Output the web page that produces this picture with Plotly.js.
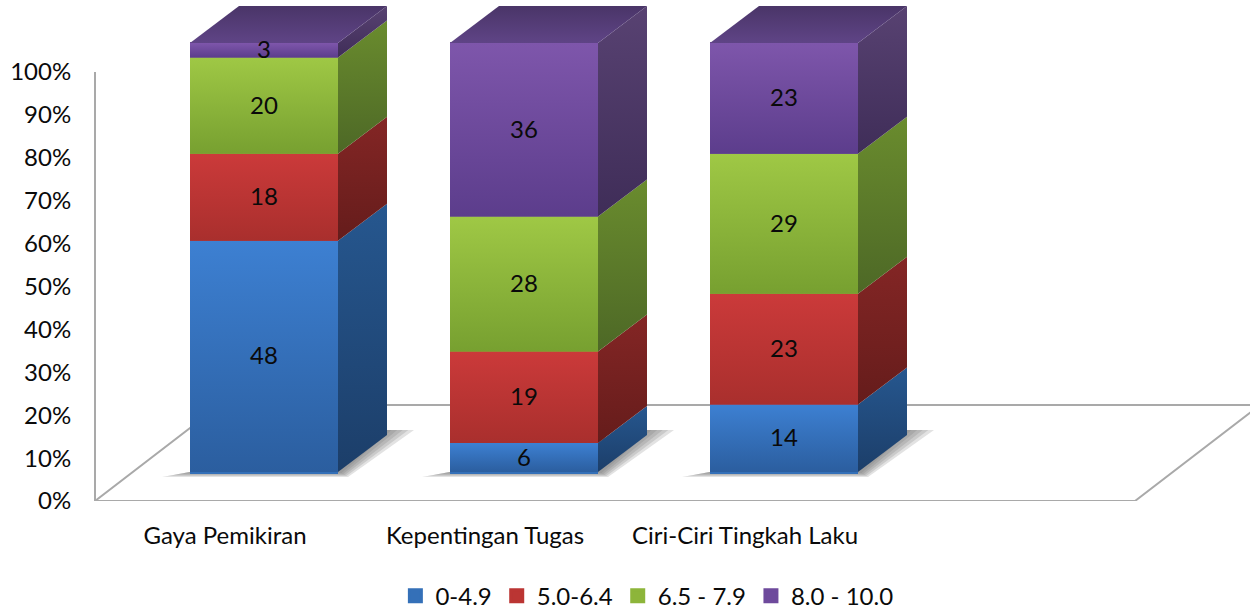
<!DOCTYPE html>
<html>
<head>
<meta charset="utf-8">
<script src="https://cdn.plot.ly/plotly-3.0.1.min.js"></script>
<style>html,body{margin:0;padding:0;background:#fff}#chart{width:1250px;height:609px}</style>
</head>
<body>
<div id="chart"></div>
<script>
// Score bands and their counts for each of the three constructs
var categories = ['Gaya Pemikiran', 'Kepentingan Tugas', 'Ciri-Ciri Tingkah Laku'];
var bandNames = ['0-4.9', '5.0-6.4', '6.5 - 7.9', '8.0 - 10.0'];
var band1 = [48, 6, 14];
var band2 = [18, 19, 23];
var band3 = [20, 28, 29];
var band4 = [3, 36, 23];
var bands = [band1, band2, band3, band4];

// Face colours per band: [front, front top, front bottom, side top, side bottom]
var faceColours = [
  ['#3470b8', '#3d80d2', '#2b5e9f', '#26578f', '#1c3e69'],
  ['#bb3533', '#cb3a3a', '#a92f2d', '#842625', '#651c1b'],
  ['#8db53a', '#9fc845', '#77a030', '#6a8c2e', '#4d6826'],
  ['#6e4a9c', '#7e56ab', '#5c3d8c', '#584272', '#3f2d58']
];
var topColours = ['#4a3568', '#5f4486'];

// Drawing scale of the oblique projection
var slotPx = 260;          // width of one category slot
var pctPx = 4.29;          // height of one percent
var xPerPx = 1 / slotPx;
var yPerPx = 1 / pctPx;
var barOffset = 39 * xPerPx;   // bar centres sit to the right of the category centre
var barWidth = 148 * xPerPx;
var depthX = 49 * xPerPx;
var depthY = 37 * yPerPx;
var floorDepthX = 125 * xPerPx;
var floorDepthY = 96 * yPerPx;
var barLift = 29 * yPerPx;     // front of the bars above the front edge of the floor
var labelNudge = 2 * yPerPx;
var swatchEdge = 3;            // outline width, widens the legend swatches

var lineGrey = '#a9a9a9';
var textFont = { family: 'Lato, "Open Sans", sans-serif', size: 24, color: '#0a0a0a' };

var traces = [];

function polygon(xs, ys, axis, grad, solid) {
  var t = {
    type: 'scatter', mode: 'lines', x: xs.concat(xs[0]), y: ys.concat(ys[0]),
    yaxis: axis, fill: 'toself', line: { width: 0 },
    showlegend: false, hoverinfo: 'skip'
  };
  if (grad) {
    t.fillgradient = { type: 'vertical', colorscale: [[0, grad[0]], [1, grad[1]]] };
  } else {
    t.fillcolor = solid;
  }
  return t;
}

// Floor outline, behind everything else
function floorLine(xs, ys) {
  return {
    type: 'scatter', mode: 'lines', x: xs, y: ys, yaxis: 'y',
    line: { color: lineGrey, width: 2 }, showlegend: false, hoverinfo: 'skip'
  };
}
traces.push(floorLine([-0.5, 3.5, 3.5 + floorDepthX * 1.1], [0, 0, floorDepthY * 1.1]));
traces.push(floorLine([-0.5, -0.5 + floorDepthX, 4], [0, floorDepthY, floorDepthY]));

// Soft shadow of each column on the floor, as nested translucent outlines
var shadowSteps = [1, 0.8, 0.6, 0.4, 0.2];
categories.forEach(function (c, i) {
  var xl = i + barOffset - barWidth / 2;
  shadowSteps.forEach(function (s) {
    var px = [-28 * s, 150 + 8 * s, 196 + 28 * s, 190, 0];
    var py = [-5 * s, -5 * s, 42, 42, 0];
    traces.push(polygon(
      px.map(function (v) { return xl + v * xPerPx; }),
      py.map(function (v) { return barLift + v * yPerPx; }),
      'y', null, 'rgba(110,110,110,0.2)'
    ));
  });
});

// Front faces: the stacked bars themselves, normalised to 100%
var xPositions = categories.map(function (c, i) { return i + barOffset; });
bands.forEach(function (vals, b) {
  traces.push({
    type: 'bar', name: bandNames[b], x: xPositions, y: vals, yaxis: 'y2',
    width: barWidth - swatchEdge * xPerPx,
    marker: { color: faceColours[b][0], line: { width: swatchEdge, color: faceColours[b][0] } },
    hoverinfo: 'skip'
  });
});

// Side faces, front shading, top face and value labels follow the same stack
var labelX = [], labelY = [], labelText = [];
categories.forEach(function (c, i) {
  var total = bands.reduce(function (s, v) { return s + v[i]; }, 0);
  var xl = i + barOffset - barWidth / 2;
  var xr = xl + barWidth;
  var run = 0;
  bands.forEach(function (vals, b) {
    var y0 = run / total * 100;
    run += vals[i];
    var y1 = run / total * 100;
    var col = faceColours[b];
    traces.push(polygon(
      [xr, xr + depthX, xr + depthX, xr],
      [y0, y0 + depthY, y1 + depthY, y1],
      'y2', [col[4], col[3]]
    ));
    traces.push(polygon([xl, xr, xr, xl], [y0, y0, y1, y1], 'y2', [col[2], col[1]]));
    labelX.push(xl + barWidth / 2);
    labelY.push((y0 + y1) / 2 - labelNudge);
    labelText.push(String(vals[i]));
  });
  traces.push(polygon(
    [xl, xr, xr + depthX, xl + depthX],
    [100, 100, 100 + depthY, 100 + depthY],
    'y2', [topColours[1], topColours[0]]
  ));
});

traces.push({
  type: 'scatter', mode: 'text', x: labelX, y: labelY, text: labelText, yaxis: 'y2',
  textposition: 'middle center', textfont: textFont, showlegend: false, hoverinfo: 'skip',
  cliponaxis: false
});

var wallTicks = [0, 10, 20, 30, 40, 50, 60, 70, 80, 90, 100];
var layout = {
  width: 1250, height: 609,
  margin: { l: 0, r: 0, t: 0, b: 108, autoexpand: false },
  paper_bgcolor: '#fff', plot_bgcolor: 'rgba(0,0,0,0)',
  barmode: 'stack', barnorm: 'percent',
  font: textFont,
  xaxis: {
    range: [-225 * xPerPx, 1025 * xPerPx], tickmode: 'array',
    tickvals: [0, 1, 2], ticktext: categories, showgrid: false, zeroline: false,
    showline: false, ticks: '', ticklabelstandoff: 18, fixedrange: true,
    tickfont: textFont
  },
  yaxis: {
    domain: [0, 429 / 501], range: [0, 100], anchor: 'free', position: 95 / 1250,
    tickmode: 'array', tickvals: wallTicks,
    ticktext: wallTicks.map(function (v) { return v + '%'; }), showgrid: false,
    zeroline: false, showline: true, linecolor: lineGrey, linewidth: 2, ticks: '',
    ticklabelstandoff: 18, fixedrange: true, tickfont: textFont
  },
  yaxis2: {
    domain: [0, 1], range: [-barLift, 472 * yPerPx], anchor: 'x', visible: false, fixedrange: true
  },
  legend: {
    orientation: 'h', x: 0.5175, xanchor: 'center', y: -0.19, yanchor: 'middle',
    traceorder: 'normal', font: textFont, bgcolor: 'rgba(0,0,0,0)',
    itemclick: false, itemdoubleclick: false
  },
  showlegend: true
};

Plotly.newPlot('chart', traces, layout, { displayModeBar: false, staticPlot: true });
</script>
</body>
</html>
